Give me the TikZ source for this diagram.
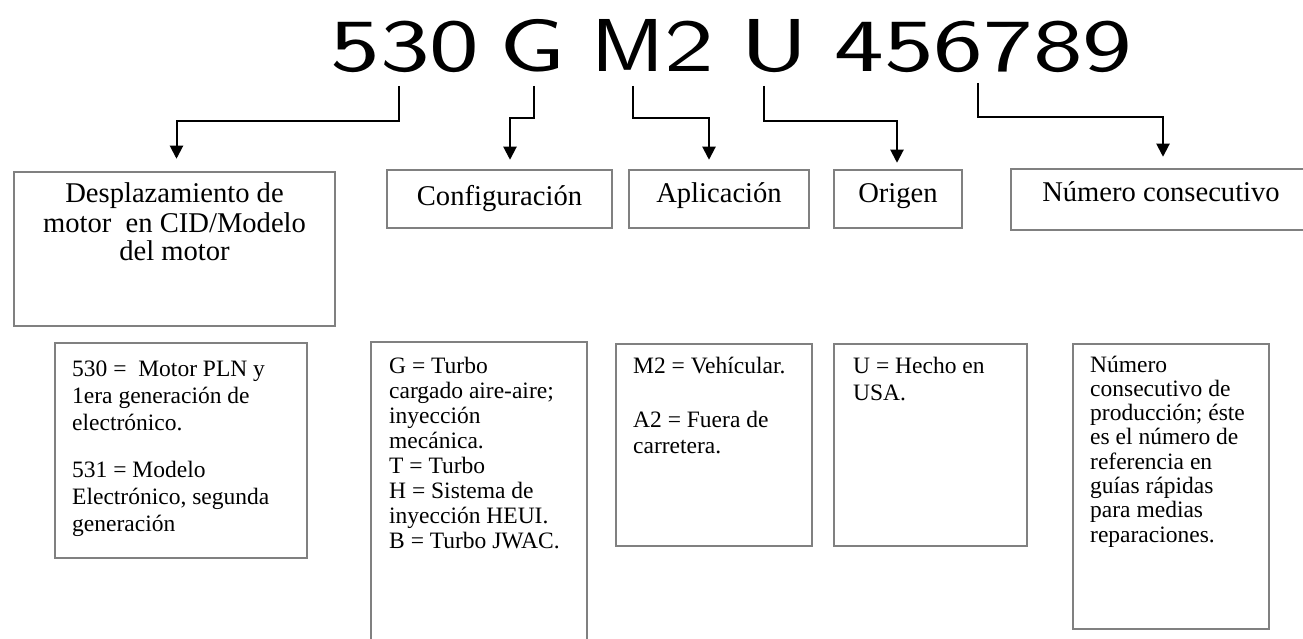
\documentclass[tikz,border=0pt]{standalone}
\usepackage{fontspec}
\setmainfont{Liberation Serif}
\newfontfamily\codefont{lmsans17-regular}[Extension=.otf, FakeStretch=1.41]
\usepackage{graphicx}
\usepackage{tikz}
\usetikzlibrary{arrows.meta}
\definecolor{boxgray}{RGB}{128,128,128}
\tikzset{box/.style={draw=boxgray, line width=2.5pt, inner sep=0pt},
  link/.style={line width=2pt, -{Triangle[width=13pt,length=13pt]}},
  head/.style={anchor=base, inner sep=0pt, font=\fontsize{28.6}{29}\selectfont},
  desc/.style={anchor=base west, inner sep=0pt, font=\fontsize{23.5}{#1}\selectfont}}
\newcommand{\codelink}[5]{\draw[link] (#1) -- ++(0,#2) -| ([xshift=#4pt,yshift=#5pt]#3.north);}

\begin{document}
\begin{tikzpicture}[x=1pt,y=-1pt]
\useasboundingbox (0,0) rectangle (1303,639); \clip (0,0) rectangle (1303,639);
\node[anchor=base, inner sep=0pt, font=\codefont\fontsize{75}{80}\selectfont] (code) at (731.5,72) {530\hspace{20pt}G\hspace{26pt}\scalebox{0.84}[1]{M}2\hspace{26pt}U\hspace{26pt}456789};
\coordinate (t530) at (399,86); \coordinate (tG) at (534,86); \coordinate (tM) at (633,86);
\coordinate (tU) at (764,86); \coordinate (tN) at (978,83);
\node[box, minimum width=321pt, minimum height=154pt] (hdisp) at (174.5,249) {};
\node[box, minimum width=225pt, minimum height=58pt] (hconf) at (499.5,199) {};
\node[box, minimum width=180pt, minimum height=58pt] (hapl) at (719,199) {};
\node[box, minimum width=128pt, minimum height=58pt] (horig) at (898,199) {};
\node[box, minimum width=300pt, minimum height=61pt] (hnum) at (1161,199.5) {};
\node[head] (ldisp) at (174.5,203) {\parbox[t]{310pt}{\centering Desplazamiento de\\motor\ \ en CID/Modelo\\del motor}};
\node[head] (lconf) at (499.5,205) {Configuración};
\node[head] (lapl) at (719,203) {Aplicación};
\node[head] (lorig) at (898,203) {Origen};
\node[head] (lnum) at (1161,202) {Número consecutivo};
\codelink{t530}{35}{hdisp}{2}{12}
\codelink{tG}{32}{hconf}{10.5}{9}
\codelink{tM}{32}{hapl}{-10}{9}
\codelink{tU}{35}{horig}{-1}{6}
\codelink{tN}{34}{hnum}{2}{11}
\node[box, minimum width=252pt, minimum height=215pt] (dcid) at (181,450.5) {};
\node[box, minimum width=216pt, minimum height=318pt] (dconf) at (479,501) {};
\node[box, minimum width=196pt, minimum height=202pt] (dapl) at (714,445) {};
\node[box, minimum width=193pt, minimum height=202pt] (dorig) at (930.5,445) {};
\node[box, minimum width=196pt, minimum height=285pt] (dnum) at (1171,486.5) {};
\node[desc=27] (tcid) at (72,376) {\parbox[t]{230pt}{\raggedright 530 =\ \ Motor PLN y\\1era generación de\\electrónico.\\[20pt]531 = Modelo\\Electrónico, segunda\\generación}};
\node[desc=25] (tconf) at (389,373) {\parbox[t]{195pt}{\raggedright G = Turbo\\cargado aire-aire;\\inyección\\mecánica.\\T = Turbo\\H = Sistema de\\inyección HEUI.\\B = Turbo JWAC.}};
\node[desc=26.5] (tapl) at (633,373) {\parbox[t]{175pt}{\raggedright M2 = Vehícular.\\[27.5pt]A2 = Fuera de\\carretera.}};
\node[desc=27] (torig) at (853,373) {\parbox[t]{165pt}{\raggedright U = Hecho en\\USA.}};
\node[desc=24.3] (tnum) at (1090,372) {\parbox[t]{175pt}{\raggedright Número\\consecutivo de\\producción; éste\\es el número de\\referencia en\\guías rápidas\\para medias\\reparaciones.}};
\end{tikzpicture}
\end{document}
